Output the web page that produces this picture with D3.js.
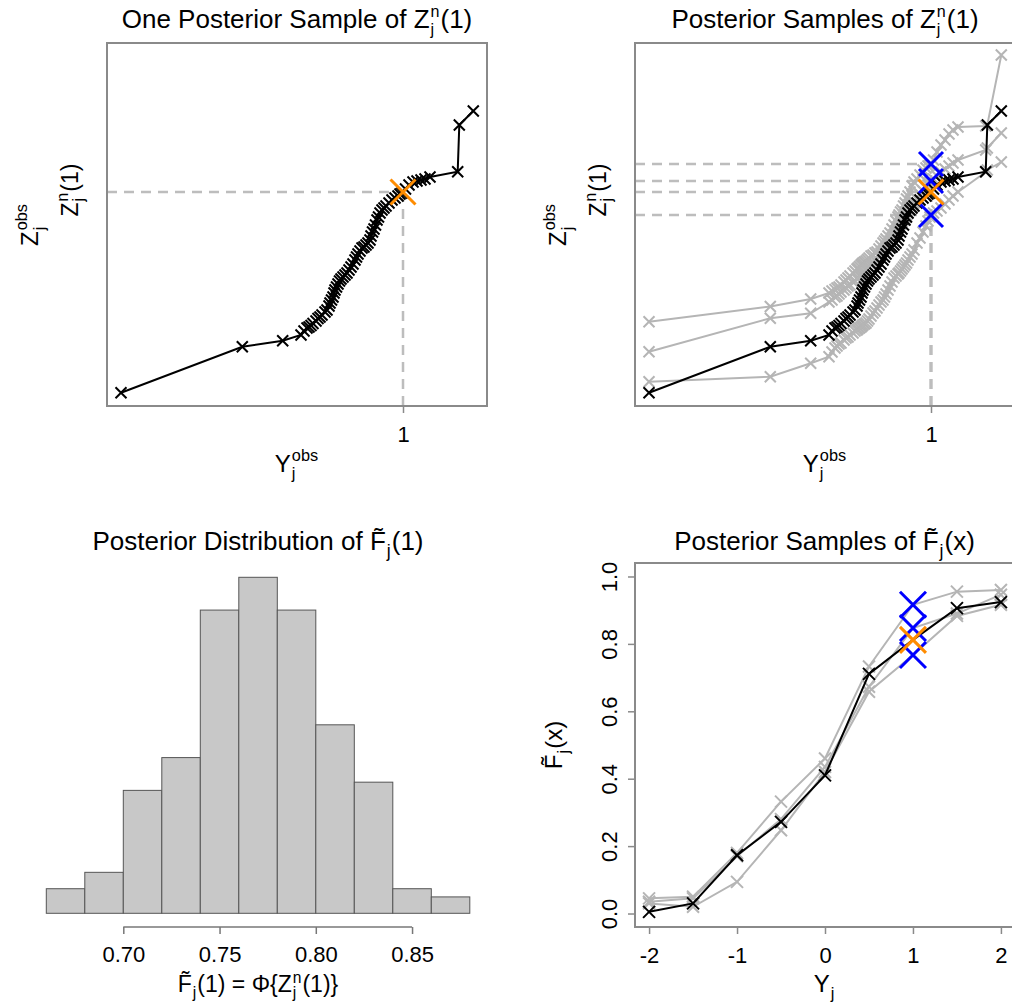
<!DOCTYPE html>
<html>
<head>
<meta charset="utf-8">
<title>Posterior samples</title>
<script src="https://cdn.jsdelivr.net/npm/d3@7"></script>
<style>
  body { margin: 0; background: #fff; }
  svg { display: block; font-family: 'Liberation Sans', Arial, Helvetica, sans-serif; }
</style>
</head>
<body>
<svg id="chart" width="1012" height="1005"></svg>
<script>
// ---- data: top panels (Y obs shared, one Z^n vector per posterior sample)
const yObs = [-1.82, -0.607, -0.203, -0.02, 0.01, 0.04, 0.06, 0.08, 0.10, 0.13,
  0.15, 0.17, 0.19, 0.22, 0.24, 0.26, 0.27, 0.285, 0.30, 0.31,
  0.32, 0.335, 0.35, 0.365, 0.38, 0.40, 0.42, 0.44, 0.46, 0.48,
  0.50, 0.52, 0.535, 0.55, 0.57, 0.59, 0.61, 0.63, 0.65, 0.67,
  0.68, 0.695, 0.71, 0.725, 0.74, 0.755, 0.77, 0.79, 0.81, 0.83,
  0.86, 0.89, 0.92, 0.95, 0.97, 0.99, 1.025, 1.06, 1.10, 1.14,
  1.18, 1.22, 1.27, 1.547, 1.563, 1.703];

const zBlack = [-1.127, -0.667, -0.607, -0.55, -0.51, -0.48, -0.47, -0.455, -0.435, -0.41,
  -0.385, -0.37, -0.35, -0.32, -0.30, -0.26, -0.23, -0.20, -0.17, -0.13,
  -0.10, -0.07, -0.04, -0.01, 0.01, 0.03, 0.05, 0.07, 0.10, 0.13,
  0.16, 0.20, 0.23, 0.26, 0.29, 0.32, 0.33, 0.35, 0.37, 0.40,
  0.44, 0.48, 0.51, 0.55, 0.60, 0.63, 0.67, 0.70, 0.72, 0.74,
  0.77, 0.80, 0.82, 0.84, 0.86, 0.87, 0.91, 0.95, 0.98, 0.99,
  1.00, 1.01, 1.03, 1.083, 1.55, 1.69];

const zGrayA = [-0.417, -0.265, -0.19, -0.13, -0.11, -0.095, -0.08, -0.07, -0.05, -0.02,
  0.00, 0.02, 0.04, 0.07, 0.09, 0.11, 0.12, 0.135, 0.15, 0.16,
  0.17, 0.18, 0.19, 0.205, 0.22, 0.24, 0.25, 0.27, 0.28, 0.31,
  0.34, 0.37, 0.39, 0.41, 0.44, 0.47, 0.51, 0.55, 0.59, 0.63,
  0.65, 0.68, 0.70, 0.74, 0.77, 0.81, 0.84, 0.88, 0.94, 0.98,
  1.01, 1.05, 1.10, 1.12, 1.14, 1.15, 1.20, 1.28, 1.35, 1.40,
  1.46, 1.50, 1.53, 1.54, 1.55, 2.25];

const zGrayB = [-0.717, -0.383, -0.333, -0.22, -0.20, -0.17, -0.16, -0.14, -0.12, -0.10,
  -0.08, -0.06, -0.05, -0.02, -0.01, 0.01, 0.02, 0.035, 0.05, 0.06,
  0.07, 0.08, 0.10, 0.11, 0.13, 0.15, 0.17, 0.19, 0.21, 0.24,
  0.27, 0.29, 0.31, 0.33, 0.36, 0.39, 0.42, 0.45, 0.49, 0.52,
  0.54, 0.56, 0.58, 0.60, 0.62, 0.65, 0.67, 0.70, 0.73, 0.77,
  0.81, 0.85, 0.89, 0.92, 0.95, 0.98, 1.01, 1.04, 1.08, 1.11,
  1.14, 1.17, 1.20, 1.30, 1.32, 1.47];

const zGrayC = [-1.017, -0.967, -0.833, -0.767, -0.72, -0.68, -0.66, -0.64, -0.63, -0.60,
  -0.58, -0.57, -0.55, -0.53, -0.51, -0.50, -0.49, -0.48, -0.47, -0.46,
  -0.45, -0.44, -0.43, -0.41, -0.39, -0.36, -0.33, -0.31, -0.28, -0.25,
  -0.22, -0.20, -0.17, -0.14, -0.10, -0.06, -0.02, 0.02, 0.04, 0.06,
  0.07, 0.09, 0.11, 0.13, 0.15, 0.17, 0.20, 0.23, 0.26, 0.30,
  0.37, 0.42, 0.48, 0.54, 0.59, 0.63, 0.67, 0.69, 0.72, 0.76,
  0.80, 0.84, 0.88, 1.08, 1.10, 1.18];

// Z^n(1) for the black sample and the three gray samples
const zBlackAt1 = 0.88;
const zGrayAt1 = [1.16, 0.99, 0.65];

// ---- data: histogram of F~(1)
const histBreaks = [0.66, 0.68, 0.70, 0.72, 0.74, 0.76, 0.78, 0.80, 0.82, 0.84, 0.86, 0.88];
const histCounts = [3, 5, 15, 19, 37, 41, 37, 23, 16, 3, 2];
const histTicks = [0.70, 0.75, 0.80, 0.85];

// ---- data: posterior samples of F~(x)
const gridX = [-2, -1.5, -1, -0.5, 0, 0.5, 1, 1.5, 2];
const fBlack = [0.005, 0.03, 0.173, 0.272, 0.41, 0.711, 0.812, 0.906, 0.924];
const fGrayA = [0.045, 0.05, 0.18, 0.332, 0.46, 0.733, 0.916, 0.955, 0.96];
const fGrayB = [0.035, 0.045, 0.17, 0.28, 0.435, 0.673, 0.847, 0.89, 0.946];
const fGrayC = [0.03, 0.02, 0.094, 0.247, 0.42, 0.658, 0.767, 0.883, 0.916];
const xTicksF = [-2, -1, 0, 1, 2];
const yTicksF = [0, 0.2, 0.4, 0.6, 0.8, 1.0];

// ---- styling
const BOX = '#8a8a8a';
const GRAY = '#b5b5b5';
const DASH = '#bdbdbd';
const ORANGE = '#ff8c00';
const BLUE = '#0000ff';
const TITLE_FS = 26, LAB_FS = 24, TICK_FS = 22;

const svg = d3.select('#chart');

function crossPath(s) {
  return `M${-s},${-s}L${s},${s}M${-s},${s}L${s},${-s}`;
}

// lays out text with stacked super/subscripts, centred on (x, y) baseline
function mathLabel(parts, size, x, y, rotate, supShift, scriptScale) {
  const g = svg.append('g').attr('transform', `translate(${x},${y}) rotate(${rotate || 0})`);
  const inner = g.append('g');
  const small = size * (scriptScale || 0.68);
  const up = size * (supShift || 0.45);
  let cx = 0;
  parts.forEach(p => {
    if (typeof p === 'string') {
      const t = inner.append('text').attr('x', cx).attr('font-size', size).text(p);
      cx += t.node().getComputedTextLength();
    } else {
      let w = 0;
      if (p.sup) {
        const t = inner.append('text').attr('x', cx + 1).attr('y', -up).attr('font-size', small).text(p.sup);
        w = Math.max(w, t.node().getComputedTextLength());
      }
      if (p.sub) {
        const t = inner.append('text').attr('x', cx + 1).attr('y', size * 0.28).attr('font-size', small).text(p.sub);
        w = Math.max(w, t.node().getComputedTextLength());
      }
      cx += w + 2;
    }
  });
  inner.attr('transform', `translate(${-cx / 2},0)`);
  return g;
}

function drawSeries(g, x, y, xs, ys, color, lw, size) {
  const line = d3.line().x((d, i) => x(xs[i])).y(d => y(d));
  g.append('path').datum(ys).attr('d', line)
    .attr('fill', 'none').attr('stroke', color).attr('stroke-width', lw);
  g.append('g').selectAll('path').data(ys).join('path')
    .attr('transform', (d, i) => `translate(${x(xs[i])},${y(d)})`)
    .attr('d', crossPath(size))
    .attr('fill', 'none').attr('stroke', color).attr('stroke-width', lw);
}

function marker(g, px, py, color, size, lw) {
  g.append('path').attr('transform', `translate(${px},${py})`)
    .attr('d', crossPath(size)).attr('fill', 'none')
    .attr('stroke', color).attr('stroke-width', lw);
}

// ---------- top panels
function topPanel(left, withSamples, titleParts) {
  const x = d3.scaleLinear().domain([-1.96, 1.84]).range([left, left + 380]);
  const z = d3.scaleLinear().domain([-1.26, 2.37]).range([406, 43]);
  const g = svg.append('g');
  const levels = withSamples ? [...zGrayAt1, zBlackAt1] : [zBlackAt1];

  levels.forEach(v => {
    g.append('line').attr('x1', left).attr('x2', x(1)).attr('y1', z(v)).attr('y2', z(v))
      .attr('stroke', DASH).attr('stroke-width', 2.5).attr('stroke-dasharray', '10,7');
    g.append('line').attr('x1', x(1)).attr('x2', x(1)).attr('y1', 406).attr('y2', z(v))
      .attr('stroke', DASH).attr('stroke-width', 2.5).attr('stroke-dasharray', '10,7');
  });

  if (withSamples) {
    [zGrayA, zGrayB, zGrayC].forEach(s => drawSeries(g, x, z, yObs, s, GRAY, 2, 5.5));
  }
  drawSeries(g, x, z, yObs, zBlack, '#000', 2, 5.5);

  if (withSamples) zGrayAt1.forEach(v => marker(g, x(1), z(v), BLUE, 12, 3));
  marker(g, x(1), z(zBlackAt1), ORANGE, 12.5, 3);

  g.append('rect').attr('x', left).attr('y', 43).attr('width', 380).attr('height', 363)
    .attr('fill', 'none').attr('stroke', BOX).attr('stroke-width', 2);

  const ax = g.append('g').attr('transform', 'translate(0,406)')
    .call(d3.axisBottom(x).tickValues([1]).tickSize(7).tickSizeOuter(0).tickPadding(13).tickFormat(d => String(d)));
  ax.select('.domain').remove();
  ax.attr('font-family', null).attr('font-size', TICK_FS);
  ax.selectAll('line').attr('stroke', BOX).attr('stroke-width', 1.5);

  const cx = left + 190;
  mathLabel(titleParts, TITLE_FS, cx, 28, 0, 0.42, 0.62);
  mathLabel(['Y', { sup: 'obs', sub: 'j' }], LAB_FS, cx, 472);
  mathLabel(['Z', { sup: 'obs', sub: 'j' }], LAB_FS, left - 69, 224.5, -90);
  mathLabel(['Z', { sup: 'n', sub: 'j' }, '(1)'], 23, left - 29, z(zBlackAt1) - 2, -90);
}

topPanel(107, false, ['One Posterior Sample of Z', { sup: 'n', sub: 'j' }, '(1)']);
topPanel(635, true, ['Posterior Samples of Z', { sup: 'n', sub: 'j' }, '(1)']);

// ---------- histogram
(function () {
  const x = d3.scaleLinear().domain([0.66, 0.88]).range([46.3, 469.8]);
  const y = d3.scaleLinear().domain([0, 41]).range([913.3, 577.3]);
  const g = svg.append('g');
  g.selectAll('rect').data(histCounts).join('rect')
    .attr('x', (d, i) => x(histBreaks[i]))
    .attr('width', (d, i) => x(histBreaks[i + 1]) - x(histBreaks[i]))
    .attr('y', d => y(d))
    .attr('height', d => y(0) - y(d))
    .attr('fill', '#c8c8c8').attr('stroke', '#555').attr('stroke-width', 1);

  const ax = g.append('g').attr('transform', 'translate(0,927)')
    .call(d3.axisBottom(x).tickValues(histTicks).tickSize(7).tickSizeOuter(0).tickPadding(12).tickFormat(d3.format('.2f')));
  ax.select('.domain').attr('d', `M${x(histTicks[0])},0H${x(histTicks[histTicks.length - 1])}`)
    .attr('stroke', '#777').attr('stroke-width', 1.5);
  ax.attr('font-family', null).attr('font-size', TICK_FS);
  ax.selectAll('line').attr('stroke', '#777').attr('stroke-width', 1.5);

  mathLabel(['Posterior Distribution of F\u0303', { sub: 'j' }, '(1)'], TITLE_FS, 258, 550);
  mathLabel(['F\u0303', { sub: 'j' }, '(1) = \u03A6{Z', { sup: 'n', sub: 'j' }, '(1)}'], 23, 258, 992, 0, 0.4);
})();

// ---------- posterior samples of F~(x)
(function () {
  const x = d3.scaleLinear().domain([-2.16, 2.16]).range([635, 1015]);
  const y = d3.scaleLinear().domain([-0.04, 1.04]).range([927, 563]);
  const g = svg.append('g');

  [fGrayA, fGrayB, fGrayC].forEach(s => drawSeries(g, x, y, gridX, s, GRAY, 2, 6));
  drawSeries(g, x, y, gridX, fBlack, '#000', 2, 6);
  const i1 = gridX.indexOf(1);
  [fGrayA, fGrayB, fGrayC].forEach(s => marker(g, x(1), y(s[i1]), BLUE, 13, 3));
  marker(g, x(1), y(fBlack[i1]), ORANGE, 13, 3);

  g.append('rect').attr('x', 635).attr('y', 563).attr('width', 380).attr('height', 364)
    .attr('fill', 'none').attr('stroke', BOX).attr('stroke-width', 2);

  const ax = g.append('g').attr('transform', 'translate(0,927)')
    .call(d3.axisBottom(x).tickValues(xTicksF).tickSize(7).tickSizeOuter(0).tickPadding(13).tickFormat(d => String(d)));
  ax.select('.domain').remove();
  ax.attr('font-family', null).attr('font-size', TICK_FS);
  ax.selectAll('line').attr('stroke', BOX).attr('stroke-width', 1.5);

  const ay = g.append('g').attr('transform', 'translate(635,0)')
    .call(d3.axisLeft(y).tickValues(yTicksF).tickSize(7).tickSizeOuter(0).tickFormat(d3.format('.1f')));
  ay.select('.domain').remove();
  ay.attr('font-family', null).attr('font-size', TICK_FS);
  ay.selectAll('line').attr('stroke', BOX).attr('stroke-width', 1.5);
  ay.selectAll('text').attr('x', null).attr('dy', null)
    .attr('text-anchor', 'middle').attr('transform', 'translate(-18,0) rotate(-90)');

  mathLabel(['Posterior Samples of F\u0303', { sub: 'j' }, '(x)'], TITLE_FS, 824.5, 550);
  mathLabel(['Y', { sub: 'j' }], LAB_FS, 824.5, 992);
  mathLabel(['F\u0303', { sub: 'j' }, '(x)'], LAB_FS, 562, 745, -90);
})();
</script>
</body>
</html>
